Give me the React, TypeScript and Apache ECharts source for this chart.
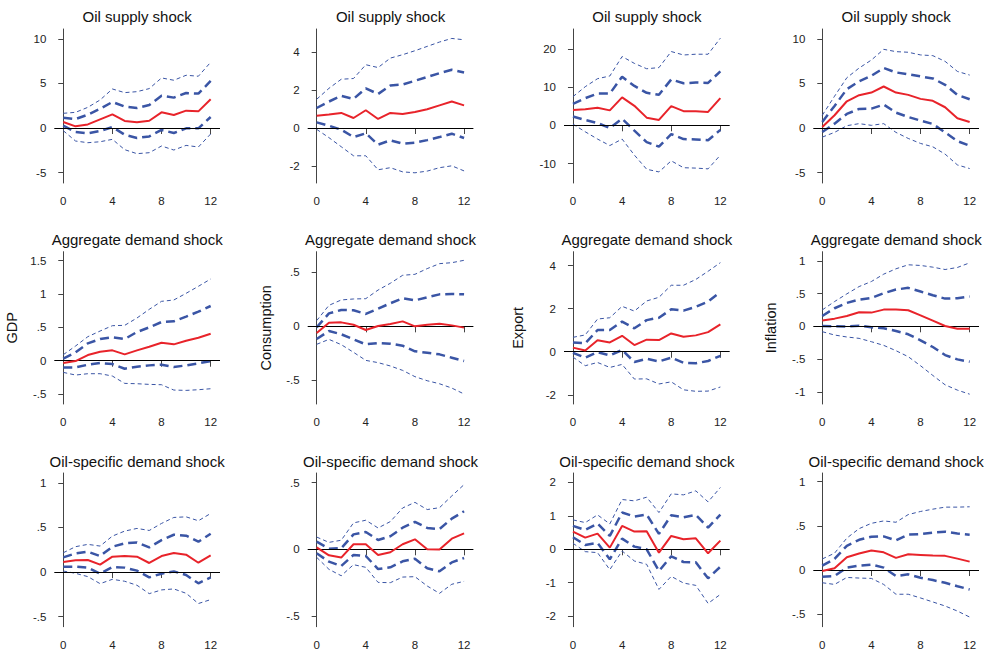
import React, { useEffect, useRef } from "react";
import * as echarts from "echarts";

// ---------- data ----------
const horizons = [0, 1, 2, 3, 4, 5, 6, 7, 8, 9, 10, 11, 12];
const xTickValues = [0, 4, 8, 12];
const shockTitles = ["Oil supply shock", "Aggregate demand shock", "Oil-specific demand shock"];
const variableNames = ["GDP", "Consumption", "Export", "Inflation"];

// each panel: outer upper, inner upper, median, inner lower, outer lower
const gdpSupply = {
  outHi: [1.65, 1.76, 2.32, 3.15, 4.38, 3.97, 4.08, 4.42, 5.62, 5.36, 5.92, 5.81, 7.38],
  inHi: [1.16, 1.0, 1.5, 2.17, 2.92, 2.4, 2.25, 2.58, 3.63, 3.41, 3.93, 3.86, 5.28],
  med: [0.67, 0.19, 0.4, 0.97, 1.53, 0.79, 0.64, 0.82, 1.76, 1.46, 1.95, 1.87, 3.22],
  inLo: [0.26, -0.45, -0.6, -0.34, 0.11, -0.75, -1.12, -0.94, -0.22, -0.56, -0.04, -0.04, 1.24],
  outLo: [-0.3, -1.46, -1.65, -1.54, -1.27, -2.43, -2.88, -2.77, -2.02, -2.47, -1.95, -2.13, -0.67],
};
const consSupply = {
  outHi: [1.52, 2.1, 2.58, 2.62, 3.35, 3.2, 3.7, 3.88, 4.09, 4.32, 4.55, 4.74, 4.67],
  inHi: [1.06, 1.4, 1.7, 1.54, 2.1, 1.8, 2.25, 2.3, 2.5, 2.7, 2.9, 3.08, 2.94],
  med: [0.65, 0.71, 0.8, 0.53, 0.94, 0.48, 0.8, 0.74, 0.85, 0.99, 1.2, 1.4, 1.2],
  inLo: [0.3, 0.12, -0.09, -0.48, -0.28, -0.88, -0.65, -0.83, -0.78, -0.64, -0.48, -0.3, -0.53],
  outLo: [-0.07, -0.51, -0.99, -1.47, -1.47, -2.21, -2.1, -2.32, -2.37, -2.28, -2.1, -2.0, -2.27],
};
const exportSupply = {
  outHi: [7.5, 10.1, 12.2, 12.9, 18.0, 16.2, 14.8, 15.1, 19.3, 18.4, 18.6, 18.6, 22.8],
  inHi: [5.6, 7.1, 8.3, 8.3, 12.7, 10.3, 8.5, 8.0, 12.0, 11.0, 11.2, 11.1, 14.1],
  med: [4.0, 4.2, 4.6, 3.9, 7.3, 5.1, 2.0, 1.4, 5.0, 3.7, 3.7, 3.5, 7.1],
  inLo: [2.3, 1.4, 0.6, -0.7, 1.7, -1.4, -4.4, -5.6, -2.3, -3.6, -3.7, -3.9, -1.2],
  outLo: [0.3, -1.7, -3.6, -5.3, -3.6, -7.8, -11.5, -12.2, -9.3, -11.1, -11.2, -11.4, -7.8],
};
const inflSupply = {
  outHi: [1.43, 3.57, 5.64, 6.73, 7.63, 8.83, 8.57, 8.5, 8.2, 8.12, 7.48, 6.35, 5.94],
  inHi: [0.68, 2.48, 4.36, 5.23, 5.86, 6.73, 6.24, 6.02, 5.79, 5.56, 4.85, 3.72, 3.23],
  med: [0.11, 1.43, 3.0, 3.68, 3.98, 4.66, 3.98, 3.72, 3.27, 3.05, 2.33, 1.09, 0.68],
  inLo: [-0.45, 0.49, 1.58, 2.14, 2.18, 2.63, 1.73, 1.24, 0.83, 0.45, -0.49, -1.47, -1.99],
  outLo: [-1.02, -0.49, 0.26, 0.49, 0.3, 0.49, -0.49, -1.17, -1.73, -2.11, -2.93, -4.14, -4.55],
};
const gdpDemand = {
  outHi: [0.09, 0.22, 0.36, 0.445, 0.525, 0.53, 0.64, 0.77, 0.89, 0.91, 1.01, 1.115, 1.225],
  inHi: [0.03, 0.125, 0.26, 0.325, 0.35, 0.325, 0.43, 0.5, 0.58, 0.59, 0.66, 0.735, 0.82],
  med: [-0.035, -0.005, 0.085, 0.135, 0.155, 0.095, 0.155, 0.21, 0.27, 0.245, 0.3, 0.345, 0.405],
  inLo: [-0.1, -0.1, -0.06, -0.035, -0.05, -0.12, -0.09, -0.07, -0.06, -0.095, -0.07, -0.04, -0.005],
  outLo: [-0.175, -0.215, -0.195, -0.195, -0.23, -0.34, -0.345, -0.355, -0.36, -0.44, -0.445, -0.435, -0.42],
};
const consDemand = {
  outHi: [0.053, 0.195, 0.245, 0.254, 0.257, 0.337, 0.4, 0.474, 0.483, 0.536, 0.582, 0.591, 0.613],
  inHi: [-0.01, 0.12, 0.152, 0.149, 0.115, 0.164, 0.214, 0.26, 0.241, 0.27, 0.297, 0.3, 0.297],
  med: [-0.062, 0.034, 0.037, 0.015, -0.034, 0.003, 0.022, 0.046, 0.0, 0.015, 0.025, 0.009, -0.012],
  inLo: [-0.118, -0.043, -0.074, -0.121, -0.167, -0.155, -0.161, -0.18, -0.232, -0.245, -0.26, -0.291, -0.322],
  outLo: [-0.167, -0.121, -0.17, -0.241, -0.316, -0.337, -0.368, -0.409, -0.467, -0.505, -0.533, -0.573, -0.628],
};
const exportDemand = {
  outHi: [0.67, 0.78, 1.52, 1.58, 2.11, 1.89, 2.36, 2.53, 3.09, 3.09, 3.36, 3.74, 4.14],
  inHi: [0.43, 0.39, 1.01, 1.01, 1.4, 1.09, 1.47, 1.58, 1.97, 1.91, 2.09, 2.33, 2.78],
  med: [0.19, 0.06, 0.53, 0.43, 0.74, 0.31, 0.56, 0.54, 0.85, 0.7, 0.76, 0.91, 1.27],
  inLo: [-0.05, -0.28, -0.02, -0.17, 0.08, -0.48, -0.33, -0.45, -0.28, -0.51, -0.54, -0.43, -0.19],
  outLo: [-0.25, -0.65, -0.5, -0.73, -0.59, -1.27, -1.26, -1.5, -1.4, -1.77, -1.84, -1.83, -1.64],
};
const inflDemand = {
  outHi: [0.25, 0.378, 0.495, 0.607, 0.684, 0.796, 0.878, 0.939, 0.929, 0.903, 0.867, 0.898, 0.969],
  inHi: [0.158, 0.276, 0.357, 0.408, 0.434, 0.505, 0.561, 0.587, 0.531, 0.474, 0.423, 0.429, 0.454],
  med: [0.087, 0.117, 0.158, 0.214, 0.209, 0.255, 0.255, 0.245, 0.168, 0.087, 0.005, -0.036, -0.036],
  inLo: [0.005, 0.0, -0.005, 0.01, -0.015, -0.03, -0.071, -0.122, -0.214, -0.316, -0.439, -0.505, -0.541],
  outLo: [-0.082, -0.133, -0.163, -0.184, -0.235, -0.291, -0.372, -0.464, -0.602, -0.75, -0.893, -0.974, -1.036],
};
const gdpOilDemand = {
  outHi: [0.216, 0.284, 0.31, 0.291, 0.403, 0.459, 0.489, 0.466, 0.545, 0.612, 0.619, 0.575, 0.657],
  inHi: [0.164, 0.209, 0.228, 0.179, 0.284, 0.321, 0.332, 0.276, 0.358, 0.418, 0.407, 0.34, 0.429],
  med: [0.112, 0.131, 0.134, 0.082, 0.172, 0.179, 0.172, 0.101, 0.179, 0.213, 0.194, 0.104, 0.187],
  inLo: [0.06, 0.06, 0.049, -0.019, 0.056, 0.049, 0.015, -0.06, -0.019, 0.007, -0.034, -0.127, -0.06],
  outLo: [0.011, -0.015, -0.052, -0.131, -0.082, -0.104, -0.149, -0.243, -0.201, -0.19, -0.239, -0.354, -0.31],
};
const consOilDemand = {
  outHi: [0.092, 0.052, 0.068, 0.198, 0.218, 0.16, 0.208, 0.31, 0.352, 0.298, 0.312, 0.4, 0.485],
  inHi: [0.058, 0.005, 0.008, 0.112, 0.13, 0.07, 0.098, 0.162, 0.205, 0.16, 0.152, 0.23, 0.285],
  med: [0.015, -0.045, -0.062, 0.038, 0.038, -0.042, -0.022, 0.038, 0.075, 0.0, -0.002, 0.08, 0.12],
  inLo: [-0.03, -0.092, -0.125, -0.042, -0.05, -0.148, -0.135, -0.09, -0.07, -0.142, -0.165, -0.098, -0.065],
  outLo: [-0.06, -0.15, -0.198, -0.115, -0.135, -0.248, -0.25, -0.208, -0.205, -0.275, -0.33, -0.262, -0.24],
};
const exportOilDemand = {
  outHi: [0.88, 0.8, 1.03, 0.76, 1.49, 1.45, 1.56, 1.1, 1.66, 1.63, 1.75, 1.42, 1.85],
  inHi: [0.7, 0.58, 0.77, 0.4, 1.1, 0.98, 1.04, 0.46, 1.02, 0.96, 1.03, 0.65, 1.04],
  med: [0.53, 0.35, 0.47, 0.05, 0.7, 0.53, 0.54, -0.1, 0.4, 0.3, 0.33, -0.12, 0.26],
  inLo: [0.36, 0.13, 0.19, -0.3, 0.32, 0.08, 0.0, -0.65, -0.21, -0.38, -0.39, -0.87, -0.52],
  outLo: [0.18, -0.07, -0.1, -0.61, -0.05, -0.35, -0.45, -1.2, -0.81, -1.01, -1.08, -1.62, -1.35],
};
const inflOilDemand = {
  outHi: [0.125, 0.19, 0.361, 0.468, 0.528, 0.555, 0.54, 0.627, 0.662, 0.688, 0.711, 0.711, 0.715],
  inHi: [0.049, 0.125, 0.274, 0.342, 0.376, 0.38, 0.335, 0.4, 0.407, 0.422, 0.433, 0.414, 0.4],
  med: [-0.011, 0.019, 0.144, 0.186, 0.22, 0.2, 0.137, 0.179, 0.171, 0.163, 0.16, 0.129, 0.095],
  inLo: [-0.076, -0.068, 0.027, 0.049, 0.061, 0.027, -0.068, -0.049, -0.087, -0.114, -0.144, -0.183, -0.22],
  outLo: [-0.144, -0.163, -0.084, -0.091, -0.095, -0.163, -0.274, -0.274, -0.316, -0.361, -0.407, -0.464, -0.532],
};

const panels = [
  gdpSupply, consSupply, exportSupply, inflSupply,
  gdpDemand, consDemand, exportDemand, inflDemand,
  gdpOilDemand, consOilDemand, exportOilDemand, inflOilDemand,
];

// y-axis ranges and tick labels per panel
const yMins = [-6.17, -2.91, -15.1, -6.17, -0.649, -0.721, -2.43, -1.186, -0.614, -0.58, -2.317, -0.641];
const yMaxs = [11.11, 5.24, 25.2, 11.11, 1.634, 0.693, 4.65, 1.139, 1.111, 0.572, 2.284, 1.097];
const yTicks = [
  [-5, 0, 5, 10], [-2, 0, 2, 4], [-10, 0, 10, 20], [-5, 0, 5, 10],
  [-0.5, 0, 0.5, 1, 1.5], [-0.5, 0, 0.5], [-2, 0, 2, 4], [-1, -0.5, 0, 0.5, 1],
  [-0.5, 0, 0.5, 1], [-0.5, 0, 0.5], [-2, -1, 0, 1, 2], [-0.5, 0, 0.5, 1],
];

// ---------- layout ----------
const colLefts = [54.3, 307.7, 564, 813.3];
const gridWidth = 165.7;
const rowTops = [29, 251.7, 473];
const rowBottoms = [183, 404, 626.7];
const titleYs = [16.5, 239, 461];
const X_MIN = -0.73;
const X_MAX = 12.76;

const BLUE = "#3a55a5";
const RED = "#e8232a";
const FONT = "Liberation Sans, Arial, sans-serif";

function stataFmt(v: number): string {
  let s = String(Math.round(v * 1000) / 1000);
  s = s.replace(/^0\./, ".").replace(/^-0\./, "-.");
  return s;
}

function buildOption() {
  const grids: any[] = [];
  const xAxes: any[] = [];
  const yAxes: any[] = [];
  const series: any[] = [];
  const graphics: any[] = [];

  panels.forEach((p, i) => {
    const r = Math.floor(i / 4);
    const c = i % 4;
    const top = rowTops[r];
    const h = rowBottoms[r] - rowTops[r];
    grids.push({ left: colLefts[c], top, width: gridWidth, height: h, containLabel: false });
    xAxes.push({
      type: "value",
      gridIndex: i,
      min: X_MIN,
      max: X_MAX,
      axisLine: { show: false },
      axisTick: { show: true, length: 6, customValues: xTickValues, lineStyle: { color: "#444", width: 1 } },
      axisLabel: { show: true, customValues: xTickValues, margin: 12, fontSize: 11.5, color: "#222", fontFamily: FONT },
      splitLine: { show: false },
    });
    yAxes.push({
      type: "value",
      gridIndex: i,
      min: yMins[i],
      max: yMaxs[i],
      axisLine: { show: true, lineStyle: { color: "#444", width: 1 } },
      axisTick: { show: true, length: 5, customValues: yTicks[i], lineStyle: { color: "#444", width: 1 } },
      axisLabel: {
        show: true,
        customValues: yTicks[i],
        margin: 8,
        fontSize: 11.5,
        color: "#222",
        fontFamily: FONT,
        formatter: (v: number) => stataFmt(v),
      },
      splitLine: { show: false },
    });

    const mk = (arr: number[]) => horizons.map((hz, k) => [hz, arr[k]]);
    const base = { type: "line", xAxisIndex: i, yAxisIndex: i, showSymbol: false, symbol: "none", silent: true };
    series.push({
      ...base,
      name: "zero",
      data: [],
      markLine: {
        silent: true,
        symbol: "none",
        label: { show: false },
        lineStyle: { color: "#000", width: 1, type: "solid" },
        data: [{ yAxis: 0 }],
      },
    });
    series.push({ ...base, name: "outer upper", data: mk(p.outHi), lineStyle: { color: BLUE, width: 1, type: [4, 3] }, z: 3 });
    series.push({ ...base, name: "outer lower", data: mk(p.outLo), lineStyle: { color: BLUE, width: 1, type: [4, 3] }, z: 3 });
    series.push({ ...base, name: "inner upper", data: mk(p.inHi), lineStyle: { color: BLUE, width: 2.5, type: [9, 5] }, z: 4 });
    series.push({ ...base, name: "inner lower", data: mk(p.inLo), lineStyle: { color: BLUE, width: 2.5, type: [9, 5] }, z: 4 });
    series.push({ ...base, name: "median", data: mk(p.med), lineStyle: { color: RED, width: 2 }, z: 5 });

    graphics.push({
      type: "text",
      x: colLefts[c] + gridWidth / 2,
      y: titleYs[r],
      style: {
        text: shockTitles[r],
        fontSize: 15,
        fontFamily: FONT,
        fill: "#111",
        textAlign: "center",
        textVerticalAlign: "middle",
      },
    });
  });

  const yNameXs = [12, 266, 518, 771];
  variableNames.forEach((name, c) => {
    graphics.push({
      type: "text",
      x: yNameXs[c],
      y: (rowTops[1] + rowBottoms[1]) / 2,
      rotation: Math.PI / 2,
      style: {
        text: name,
        fontSize: 14.5,
        fontFamily: FONT,
        fill: "#111",
        textAlign: "center",
        textVerticalAlign: "middle",
      },
    });
  });

  return {
    animation: false,
    backgroundColor: "#fff",
    grid: grids,
    xAxis: xAxes,
    yAxis: yAxes,
    series,
    graphic: graphics,
  };
}

export default function App() {
  const ref = useRef<HTMLDivElement>(null);
  useEffect(() => {
    document.body.style.margin = "0";
    if (!ref.current) return;
    const chart = echarts.init(ref.current, undefined, { renderer: "svg" });
    chart.setOption(buildOption() as any);
    return () => chart.dispose();
  }, []);
  return <div ref={ref} style={{ position: "absolute", left: 0, top: 0, width: 989, height: 659, background: "#fff" }} />;
}
